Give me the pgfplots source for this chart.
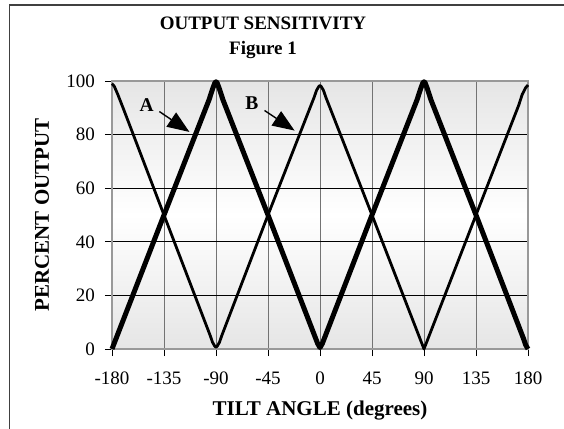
\documentclass[border=0pt]{standalone}
\usepackage{fontspec}
\setmainfont{Liberation Serif}
\usepackage{pgfplots}
\pgfplotsset{compat=1.18}
\usetikzlibrary{arrows.meta}
\begin{document}
\begin{tikzpicture}
\path[use as bounding box] (-112pt,-79pt) rectangle (452pt,349pt);
\fill[white] (-112pt,-79pt) rectangle (452pt,349pt);
\draw[line width=1.5pt, black!75] (-102.5pt,-85pt) -- (-102.5pt,344pt) -- (460pt,344pt);
\node[anchor=base, font=\bfseries\fontsize{19}{22}\selectfont] at (151pt,319pt) {OUTPUT SENSITIVITY};
\node[anchor=base, font=\bfseries\fontsize{19}{22}\selectfont] at (151pt,294pt) {Figure 1};
\begin{axis}[
  scale only axis, width=416pt, height=268pt,
  xmin=-180, xmax=180, ymin=0, ymax=100,
  xtick={-180,-135,...,180}, ytick={0,20,...,100},
  /pgf/number format/assume math mode=true,
  tick align=outside, xtick pos=bottom, ytick pos=left,
  major tick length=7pt,
  tick style={black, line width=0.8pt},
  tick label style={font=\fontsize{19}{22}\selectfont},
  xticklabel style={anchor=base, yshift=-28pt},
  yticklabel style={anchor=east, inner sep=0pt, xshift=-10pt},
  grid=major,
  x grid style={line width=0.8pt, black!55},
  y grid style={line width=0.8pt, black},
  axis line style={line width=1.6pt, black!40},
  axis background/.style={shade, top color=black!10, bottom color=black!10, middle color=white},
  xlabel={TILT ANGLE (degrees)},
  ylabel={PERCENT OUTPUT},
  label style={font=\bfseries\fontsize{21}{24}\selectfont},
  xlabel style={at={(axis description cs:0.5,-0.2463)}, anchor=base},
  ylabel style={at={(axis description cs:-0.168,0.5)}, anchor=center},
  clip=false,
]
\addplot[black, line width=5pt, line join=round] coordinates {
(-180,0) (-135,50) (-96,93) (-93,97) (-91,99.3) (-90,99.7) (-89,99.3) (-87,97) (-84,93)
(-45,50) (-2,2) (0,0.5) (2,2) (45,50) (84,93) (87,97) (89,99.3) (90,99.7) (91,99.3)
(93,97) (96,93) (135,50) (176,4) (178,1.5) (180,0)};
\addplot[black, line width=2.8pt, line join=round] coordinates {
(-180,99) (-178,98) (-175,95) (-170,89.5) (-135,50) (-95,5) (-93,2.5) (-91,1) (-90,0.7)
(-89,1) (-87,2.5) (-85,5) (-45,50) (-5,94) (-3,96.5) (-1,98) (0,98.3) (1,98) (3,96.5)
(5,94) (45,50) (90,0) (135,50) (172,91) (175,95) (178,97.5) (180,98.5)};
\node[font=\bfseries\fontsize{19.5}{22}\selectfont] at (axis cs:-150,91) {A};
\node[font=\bfseries\fontsize{19.5}{22}\selectfont] at (axis cs:-59,91.8) {B};
\draw[line width=1.4pt, -{Triangle[length=22pt,width=17pt]}] (axis cs:-139,88.6) -- (axis cs:-113,81);
\draw[line width=1.4pt, -{Triangle[length=22pt,width=17pt]}] (axis cs:-48,89) -- (axis cs:-22,81.5);
\end{axis}
\end{tikzpicture}
\end{document}
